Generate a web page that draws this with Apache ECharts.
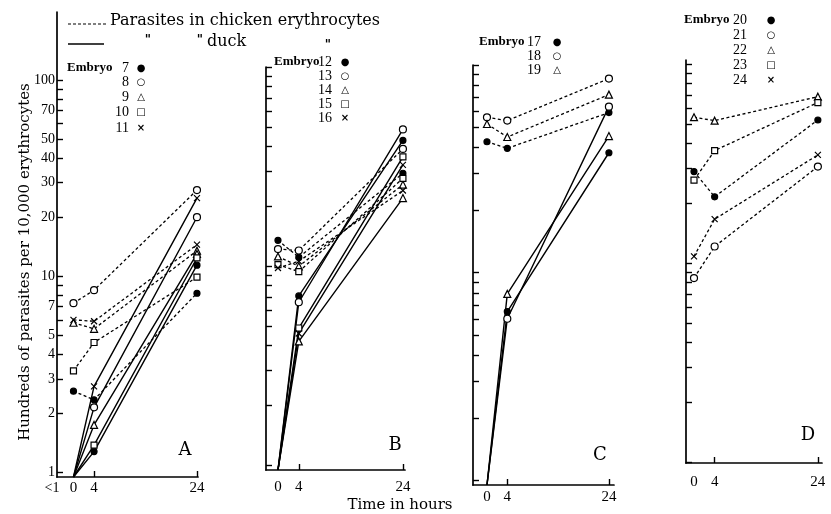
<!DOCTYPE html>
<html>
<head>
<meta charset="utf-8">
<script src="https://cdn.jsdelivr.net/npm/echarts@6/dist/echarts.min.js"></script>
<style>
  html, body { margin: 0; background: #fff; }
  #chart { width: 831px; height: 514px; }
</style>
</head>
<body>
<div id="chart"></div>
<script>
// time points (hours)
const hours = [0, 4, 24];
// duck series start below 1 ("<1"), drawn on the baseline
const LT1 = 0.95;

// panel A
const embryosA = [7, 8, 9, 10, 11];
const chickenA = [[2.6, 2.35, 8.2], [7.3, 8.5, 27.5], [5.8, 5.4, 13.5], [3.3, 4.6, 9.9], [6.0, 5.9, 14.5]];
const duckA = [[LT1, 1.28, 11.4], [LT1, 2.15, 20], [LT1, 1.75, 13], [LT1, 1.38, 12.4], [LT1, 2.75, 25]];
// panel B
const embryosB = [12, 13, 14, 15, 16];
const chickenB = [[13.5, 11.1, 29.3], [12.2, 12.0, 38.8], [11.2, 10.0, 25.7], [10.2, 9.4, 27.6], [9.8, 10.6, 24]];
const duckB = [[LT1, 7.1, 42.8], [LT1, 6.6, 48.6], [LT1, 4.2, 22], [LT1, 4.9, 35.4], [LT1, 4.6, 32.3]];
// panel C
const embryosC = [17, 18, 19];
const chickenC = [[42.7, 39.7, 59], [56, 54, 86], [52, 45, 72]];
const duckC = [[LT1, 6.5, 37.8], [LT1, 6.0, 63], [LT1, 7.9, 45.5]];
// panel D (chicken only)
const embryosD = [20, 21, 22, 23, 24];
const chickenD = [[28.8, 21.5, 52.3], [8.4, 12.1, 30.5], [54, 51.9, 68.5], [26.1, 36.7, 64], [10.8, 16.6, 34.9]];
const duckD = [];

// axis ticks / labels
const yTicks = [1, 2, 3, 4, 5, 6, 7, 8, 9, 10, 20, 30, 40, 50, 60, 70, 80, 90, 100];
const yLabels = [1, 2, 3, 4, 5, 7, 10, 20, 30, 40, 50, 70, 100];
const xTicks = [4, 24];
const xLabels = [0, 4, 24];

const INK = '#000';
const SERIF = "'DejaVu Serif', serif";
const NUMF = "'Liberation Serif', serif";

// marker per embryo position: filled dot, open circle, triangle, square, cross
const marks = [
  { symbol: 'circle', size: 6, fill: INK },
  { symbol: 'circle', size: 7, fill: '#fff' },
  { symbol: 'triangle', size: 7, fill: '#fff' },
  { symbol: 'rect', size: 6, fill: '#fff' },
  { symbol: 'path://M0,0L10,10M10,0L0,10', size: 6, fill: INK }
];
const legendGlyphs = ['●', '○', '△', '□', '×'];

const panels = [
  { letter: 'A', left: 57, top: 12, width: 141, height: 465, xMin: -3.2, xMax: 24.2, yMin: LT1, yMax: 222,
    labels: true, xMargin: 4, embryos: embryosA, chicken: chickenA, duck: duckA,
    leg: { x: 67, num: 129, sym: 141, rows: [68, 82, 97, 112, 128] }, tag: [185, 450] },
  { letter: 'B', left: 266, top: 67, width: 139, height: 403, xMin: -2.3, xMax: 24.4, yMin: LT1, yMax: 100,
    labels: false, xMargin: 10, embryos: embryosB, chicken: chickenB, duck: duckB,
    leg: { x: 274, num: 332, sym: 345, rows: [62, 76, 90, 104, 118] }, tag: [395, 445] },
  { letter: 'C', left: 473, top: 65, width: 141, height: 420, xMin: -2.75, xMax: 25, yMin: LT1, yMax: 100,
    labels: false, xMargin: 5, embryos: embryosC, chicken: chickenC, duck: duckC,
    leg: { x: 479, num: 541, sym: 557, rows: [42, 56, 70] }, tag: [600, 455] },
  { letter: 'D', left: 686, top: 60, width: 136, height: 403, xMin: -1.55, xMax: 24.8, yMin: 0.988, yMax: 104.7,
    labels: false, xMargin: 12, embryos: embryosD, chicken: chickenD, duck: duckD,
    leg: { x: 684, num: 747, sym: 771, rows: [20, 35, 50, 65, 80] }, tag: [808, 435] }
];

const grid = [], xAxis = [], yAxis = [], series = [], graphic = [];

function txt(x, y, text, size, extra) {
  graphic.push(Object.assign({
    type: 'text', x: x, y: y, silent: true,
    style: Object.assign({ text: text, fill: INK, font: size + 'px ' + SERIF, align: 'left', verticalAlign: 'middle' }, extra || {})
  }));
  return graphic[graphic.length - 1];
}

panels.forEach(function (p, i) {
  grid.push({ left: p.left, top: p.top, width: p.width, height: p.height });
  xAxis.push({
    gridIndex: i, type: 'value', min: p.xMin, max: p.xMax,
    axisLine: { onZero: false, lineStyle: { color: INK, width: 1.7 } },
    axisTick: { inside: true, length: 6, customValues: xTicks, lineStyle: { color: INK, width: 1.4 } },
    axisLabel: { customValues: xLabels, margin: p.xMargin, color: INK, fontFamily: NUMF, fontSize: 15 },
    splitLine: { show: false }
  });
  // data axis (log)
  yAxis.push({ gridIndex: i, type: 'log', logBase: 10, min: p.yMin, max: p.yMax, show: false });
  // drawn axis with the ticks of the log scale
  yAxis.push({
    gridIndex: i, type: 'value', position: 'left',
    min: Math.log10(p.yMin), max: Math.log10(p.yMax),
    axisLine: { show: true, onZero: false, lineStyle: { color: INK, width: 1.7 } },
    axisTick: { show: true, inside: true, length: 6, customValues: yTicks.map(Math.log10), lineStyle: { color: INK, width: 1.4 } },
    axisLabel: { show: p.labels, customValues: yLabels.map(Math.log10), margin: 2, color: INK, fontFamily: NUMF, fontSize: 14,
      formatter: function (v) { return String(Math.round(Math.pow(10, v))); } },
    splitLine: { show: false }
  });

  function addSeries(vals, k, duck) {
    const m = marks[k];
    series.push({
      type: 'line', xAxisIndex: i, yAxisIndex: 2 * i,
      name: 'Embryo ' + p.embryos[k] + (duck ? ' duck' : ' chicken'),
      data: vals.map(function (v, j) {
        return (duck && j === 0) ? { value: [hours[j], v], symbol: 'none' } : [hours[j], v];
      }),
      symbol: m.symbol, symbolSize: m.size, showAllSymbol: true,
      lineStyle: { color: INK, width: duck ? 1.4 : 1.3, type: duck ? 'solid' : [3, 2.5] },
      itemStyle: { color: m.fill, borderColor: INK, borderWidth: 1.2 },
      emphasis: { disabled: true }, z: duck ? 3 : 2, clip: false
    });
  }
  p.chicken.forEach(function (vals, k) { addSeries(vals, k, false); });
  p.duck.forEach(function (vals, k) { addSeries(vals, k, true); });

  // embryo key
  txt(p.leg.x, p.leg.rows[0], 'Embryo', 13, { font: 'bold 13px ' + NUMF });
  p.embryos.forEach(function (e, k) {
    txt(p.leg.num, p.leg.rows[k], String(e), 14, { align: 'right', font: '14px ' + NUMF });
    txt(p.leg.sym, p.leg.rows[k], legendGlyphs[k], 10, { align: 'center', font: 'bold 10px ' + "'DejaVu Sans', sans-serif" });
  });
  txt(p.tag[0], p.tag[1], p.letter, 18, { align: 'center', font: '18px ' + SERIF });
});

// line-style key at top
graphic.push({ type: 'line', silent: true, shape: { x1: 68, y1: 24, x2: 106, y2: 24 }, style: { stroke: INK, lineWidth: 1.2, lineDash: [3, 2] } });
graphic.push({ type: 'line', silent: true, shape: { x1: 68, y1: 44, x2: 104, y2: 44 }, style: { stroke: INK, lineWidth: 1.5 } });
txt(110, 21, 'Parasites in chicken erythrocytes', 16);
txt(148, 41, '"', 12, { align: 'center', font: 'bold 12px ' + SERIF });
txt(200, 41, '"', 12, { align: 'center', font: 'bold 12px ' + SERIF });
txt(328, 46, '"', 12, { align: 'center', font: 'bold 12px ' + SERIF });
txt(207, 42, 'duck', 16);
// axis titles and the "<1" mark
txt(25, 262, 'Hundreds of parasites per 10,000 erythrocytes', 15, { align: 'center' }).rotation = Math.PI / 2;
txt(400, 505, 'Time in hours', 15, { align: 'center' });
txt(52, 488, '<1', 14, { align: 'center', font: '14px ' + NUMF });

const chart = echarts.init(document.getElementById('chart'), null, { renderer: 'canvas' });
chart.setOption({
  animation: false,
  backgroundColor: '#fff',
  grid: grid, xAxis: xAxis, yAxis: yAxis, series: series,
  graphic: graphic
});
</script>
</body>
</html>
